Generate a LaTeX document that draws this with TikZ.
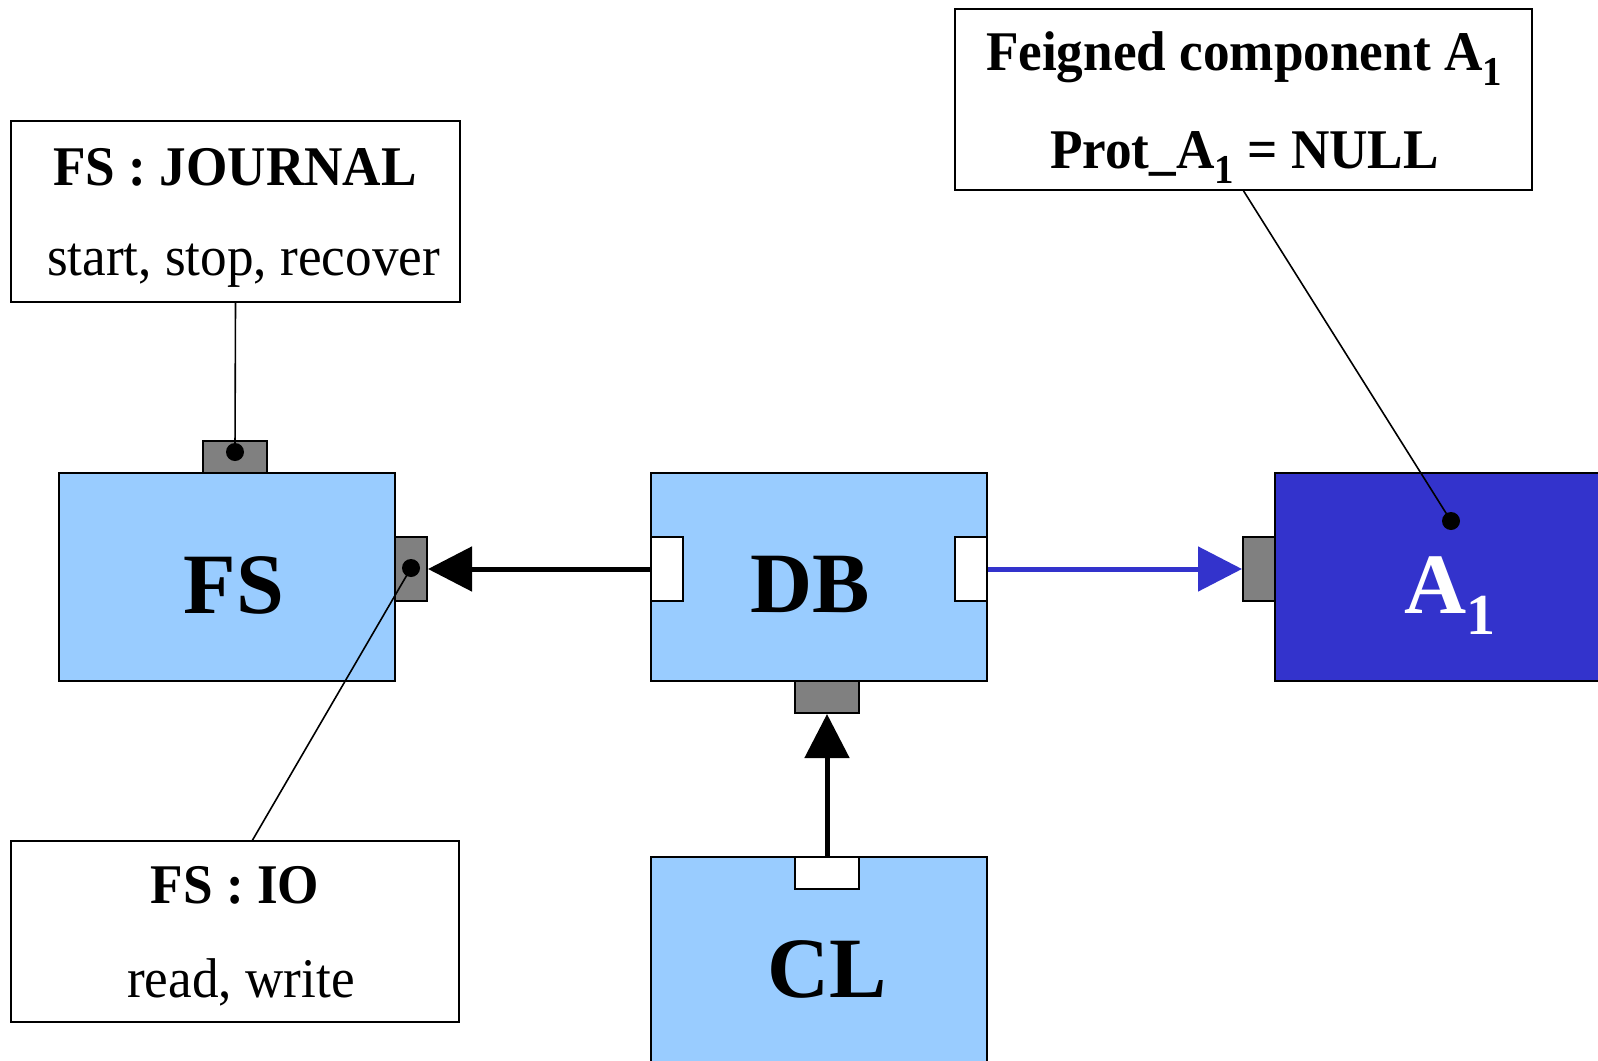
\documentclass[tikz,border=0pt]{standalone}
\usepackage{fontspec}
\setmainfont{Liberation Serif}
\usetikzlibrary{arrows.meta}
\definecolor{lblue}{HTML}{99CCFF}
\definecolor{dblue}{HTML}{3333CC}
\definecolor{pgray}{HTML}{808080}
\newcommand\lowsub[2]{\raisebox{#1}{\fontsize{#2}{#2}\selectfont 1}}
\newcommand\nx[1]{\scalebox{0.95}[1]{#1}}
\begin{document}
\begin{tikzpicture}[x=1pt,y=-1pt,
  comp/.style={draw=black,line width=2pt,fill=lblue,inner sep=0pt,minimum width=336pt,minimum height=208pt},
  note/.style={draw=black,line width=1.6pt,fill=white,inner sep=0pt,minimum height=181pt},
  portg/.style={draw=black,line width=2pt,fill=pgray,inner sep=0pt},
  portw/.style={draw=black,line width=2pt,fill=white,inner sep=0pt},
  hport/.style={minimum width=64pt,minimum height=32pt},
  vport/.style={minimum width=32pt,minimum height=64pt},
  dotst/.style={circle,fill=black,inner sep=0pt,minimum size=18pt},
  lbl/.style={inner sep=0pt,anchor=base,font=\fontsize{56}{60}\selectfont},
  lblb/.style={inner sep=0pt,anchor=base,font=\fontsize{56}{60}\selectfont\bfseries},
  big/.style={inner sep=0pt,anchor=base,font=\fontsize{86}{90}\selectfont\bfseries},
  arr/.style={line width=5pt,-{Triangle[length=44pt,width=44pt]}},
  thin/.style={line width=1.6pt}
]
\path[use as bounding box] (0,0) rectangle (1598,1060);
\clip (0,0) rectangle (1598,1060);
\fill[white] (0,0) rectangle (1598,1060);

% annotation boxes
\node[note,minimum width=449pt] (journal) at (235.5,211.5) {};
\node[note,minimum width=448pt] (io) at (235,931.5) {};
\node[note,minimum width=577pt] (feigned) at (1243.5,99.5) {};
\node[lblb] (jt1) at (235,185) {\nx{FS : JOURNAL}};
\node[lbl] (jt2) at (243.5,275) {\nx{start, stop, recover}};
\node[lblb] (it1) at (235,903) {\nx{FS : IO}};
\node[lbl] (it2) at (241,997) {\nx{read, write}};
\node[lblb] (ft1) at (1244,70) {\nx{Feigned component A\lowsub{-0.28em}{41}}};
\node[lblb] (ft2) at (1244.5,168) {\nx{Prot\_A\lowsub{-0.28em}{41} = NULL}};

% components
\node[comp] (fs) at (227,577) {};
\node[comp] (db) at (819,577) {};
\node[comp,minimum height=218pt] (cl) at (819,966) {};
\node[comp,fill=dblue,minimum width=340pt] (a1) at (1445,577) {};

\node[big] (fslbl) at (234,613) {FS};
\node[big] (dblbl) at (810,612) {DB};
\node[big] (cllbl) at (827,997) {CL};
\node[big,anchor=base west,text=white] (a1lbl) at (1404,613) {A\lowsub{-0.245em}{58}};

% ports
\node[portg,hport] (fstop) at (235,457) {};
\node[portg,vport] (fsright) at (411,569) {};
\node[portw,vport] (dbleft) at (667,569) {};
\node[portw,vport] (dbright) at (971,569) {};
\node[portg,hport] (dbbottom) at (827,697) {};
\node[portw,hport] (cltop) at (827,873) {};
\node[portg,vport] (a1left) at (1259,569) {};

% dots
\node[dotst] (d1) at (235,452) {};
\node[dotst] (d2) at (411,568) {};
\node[dotst] (d3) at (1451,521) {};
\coordinate (ioend) at (252,841);

% annotation lines
\draw[thin] (journal.south) -- (d1.center);
\draw[thin] (ioend) -- (d2.center);
\draw[thin] (feigned.south) -- (d3.center);

% connectors
\draw[arr] (dbleft.west) -- (fsright.east);
\draw[arr,draw=dblue,fill=dblue] (dbright.east) -- (a1left.west);
\draw[arr] (cltop.north) -- (dbbottom.south);
\end{tikzpicture}
\end{document}
